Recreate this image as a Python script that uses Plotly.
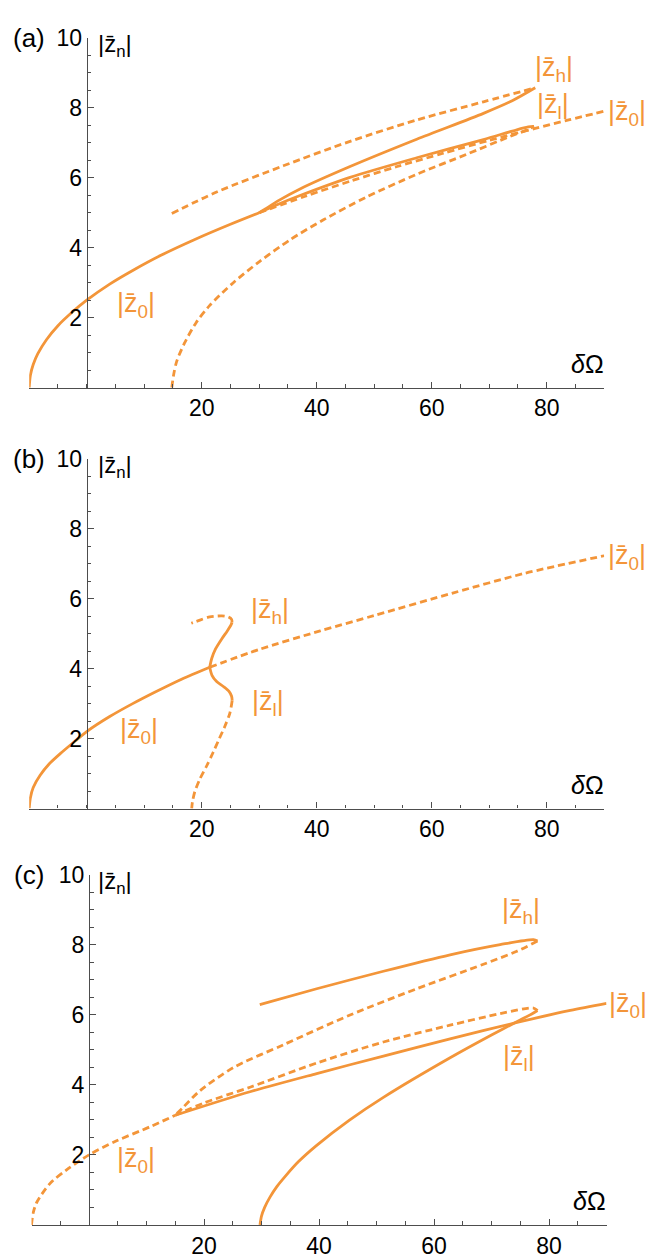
import plotly.graph_objects as go

W, H = 655, 1259
OFF = 8  # page body margin in the browser
ORANGE = "#F39539"
AXIS_COLOR = "#4D4D4D"
FONT = "Liberation Sans, Arial, Helvetica, sans-serif"

# ---------------- panel (a) ----------------
A_Z0_SOLID_X = [-10, -9.8, -9.3, -8.5, -7, -5, -2.5, 0, 4, 8, 13, 19, 25, 30]
A_Z0_SOLID_Y = [0, 0.35, 0.66, 0.97, 1.37, 1.77, 2.16, 2.50, 2.96, 3.35, 3.79, 4.25, 4.67, 5.0]
A_Z0_DASH_X = [30, 38, 46, 54, 62, 70, 78, 84, 90]
A_Z0_DASH_Y = [5.0, 5.47, 5.91, 6.32, 6.70, 7.07, 7.41, 7.66, 7.90]
A_ZH_SOLID_X = [30, 31.3, 33.5, 37.1, 45.8, 57.4, 69.0, 74.0, 78.0]
A_ZH_SOLID_Y = [5.0, 5.13, 5.36, 5.68, 6.32, 7.10, 7.84, 8.20, 8.57]
A_ZH_DASH_X = [14.8, 22.6, 34.2, 45.8, 57.4, 69.0, 78.0]
A_ZH_DASH_Y = [4.98, 5.59, 6.34, 7.04, 7.65, 8.17, 8.57]
A_ZL_SOLID_X = [30, 33, 37.1, 45.8, 57.4, 69.0, 74.8, 76.8, 77.8]
A_ZL_SOLID_Y = [5.0, 5.22, 5.49, 6.01, 6.57, 7.09, 7.37, 7.45, 7.47]
A_ZL_DASH_X = [14.8, 15.1, 15.65, 17.0, 19.0, 21.4, 25.5, 30.1, 35.4, 41.1, 48.7,
               57.4, 66.1, 73.6, 76.5, 77.8]
A_ZL_DASH_Y = [0, 0.35, 0.75, 1.27, 1.85, 2.35, 3.0, 3.61, 4.23, 4.79, 5.45,
               6.10, 6.67, 7.18, 7.36, 7.47]

# ---------------- panel (b) ----------------
B_Z0_SOLID_X = [-10, -9.8, -9.3, -8.1, -6.5, -4.6, -2, 0, 4, 8, 12, 16.5, 21.4]
B_Z0_SOLID_Y = [0, 0.30, 0.60, 0.95, 1.28, 1.57, 1.93, 2.20, 2.63, 3.00, 3.34, 3.70, 4.04]
B_Z0_DASH_X = [21.4, 30, 40.6, 50, 63.8, 76, 90]
B_Z0_DASH_Y = [4.04, 4.55, 5.08, 5.52, 6.17, 6.72, 7.23]
B_ZH_SOLID_X = [21.4, 21.74, 22.43, 23.48, 24.45, 25.1, 25.27]
B_ZH_SOLID_Y = [4.04, 4.29, 4.57, 4.85, 5.08, 5.25, 5.32]
B_ZH_DASH_X = [25.27, 25.2, 24.6, 23.5, 21.4, 19.7, 18.2]
B_ZH_DASH_Y = [5.32, 5.41, 5.48, 5.51, 5.48, 5.39, 5.30]
B_ZL_SOLID_X = [21.4, 21.79, 22.6, 23.76, 24.75, 25.2, 25.3]
B_ZL_SOLID_Y = [4.04, 3.81, 3.63, 3.49, 3.35, 3.21, 3.09]
B_ZL_DASH_X = [25.3, 24.9, 24.05, 22.9, 22.0, 20.9, 19.7, 18.8, 18.4, 18.26]
B_ZL_DASH_Y = [3.09, 2.73, 2.36, 1.94, 1.61, 1.23, 0.85, 0.48, 0.20, 0]

# ---------------- panel (c) ----------------
C_Z0_DASH_X = [-10, -9.7, -9.1, -6.8, -3.9, 0, 4.8, 10.6, 15.0]
C_Z0_DASH_Y = [0, 0.35, 0.64, 1.18, 1.57, 2.0, 2.40, 2.80, 3.13]
C_Z0_SOLID_X = [15.0, 28.0, 39.6, 51.2, 62.8, 75.0, 83.7, 90]
C_Z0_SOLID_Y = [3.13, 3.80, 4.32, 4.82, 5.31, 5.80, 6.12, 6.32]
C_ZH_SOLID_X = [29.7, 39.6, 51.2, 62.8, 71.5, 77.3, 78.0]
C_ZH_SOLID_Y = [6.29, 6.74, 7.24, 7.71, 8.00, 8.14, 8.10]
C_ZH_DASH_X = [78.0, 74.4, 68.6, 57.0, 45.4, 33.8, 25.1, 19.3, 16.4, 15.0]
C_ZH_DASH_Y = [8.10, 7.81, 7.44, 6.74, 5.99, 5.14, 4.49, 3.83, 3.36, 3.13]
C_ZL_DASH_X = [15.0, 20, 28.0, 39.6, 51.2, 62.8, 71.5, 77.3, 78.0]
C_ZL_DASH_Y = [3.13, 3.48, 3.93, 4.62, 5.22, 5.70, 6.03, 6.19, 6.12]
C_ZL_SOLID_X = [78.0, 77.0, 74.4, 70, 62.8, 51.2, 45.3, 39.6, 36.4, 34.2, 32.7, 31.5,
                30.55, 30.0, 29.74]
C_ZL_SOLID_Y = [6.12, 6.02, 5.80, 5.42, 4.77, 3.64, 2.99, 2.27, 1.80, 1.40, 1.10, 0.80,
                0.50, 0.25, 0]

X_TICKS = [20, 40, 60, 80]
Y_TICKS = [2, 4, 6, 8, 10]

Z0 = "|z\u0304<sub>0</sub>|"
ZH = "|z\u0304<sub>h</sub>|"
ZL = "|z\u0304<sub>l</sub>|"
ZN = "|z\u0304<sub>n</sub>|"

PANELS = [
    dict(
        tag="(a)", x_px=(29.2, 604.2), y_px=(380.0, 25.0),
        branches=[
            (A_Z0_SOLID_X, A_Z0_SOLID_Y, False), (A_Z0_DASH_X, A_Z0_DASH_Y, True),
            (A_ZH_SOLID_X, A_ZH_SOLID_Y, False), (A_ZH_DASH_X, A_ZH_DASH_Y, True),
            (A_ZL_SOLID_X, A_ZL_SOLID_Y, False), (A_ZL_DASH_X, A_ZL_DASH_Y, True),
        ],
        labels=[(ZH, 554, 57), (ZL, 553, 94), (Z0, 627, 101), (Z0, 136, 296)],
    ),
    dict(
        tag="(b)", x_px=(29.2, 604.2), y_px=(807.0, 452.3),
        branches=[
            (B_Z0_SOLID_X, B_Z0_SOLID_Y, False), (B_Z0_DASH_X, B_Z0_DASH_Y, True),
            (B_ZH_SOLID_X, B_ZH_SOLID_Y, False), (B_ZH_DASH_X, B_ZH_DASH_Y, True),
            (B_ZL_SOLID_X, B_ZL_SOLID_Y, False), (B_ZL_DASH_X, B_ZL_DASH_Y, True),
        ],
        labels=[(ZH, 270, 607), (ZL, 268, 700), (Z0, 139, 728), (Z0, 627, 552)],
    ),
    dict(
        tag="(c)", x_px=(31.5, 606.5), y_px=(1229.5, 874.0),
        branches=[
            (C_Z0_SOLID_X, C_Z0_SOLID_Y, False), (C_Z0_DASH_X, C_Z0_DASH_Y, True),
            (C_ZH_SOLID_X, C_ZH_SOLID_Y, False), (C_ZH_DASH_X, C_ZH_DASH_Y, True),
            (C_ZL_SOLID_X, C_ZL_SOLID_Y, False), (C_ZL_DASH_X, C_ZL_DASH_Y, True),
        ],
        labels=[(ZH, 521, 911), (ZL, 519, 1060), (Z0, 628, 1006), (Z0, 136, 1164)],
    ),
]

FW, FH = W - OFF, H - OFF


def px_x(p):
    return (p - OFF) / FW


def px_y(p):
    return 1 - (p - OFF) / FH


fig = go.Figure()
annotations = []
layout_axes = {}

for i, panel in enumerate(PANELS, start=1):
    xs = "" if i == 1 else str(i)
    x0, x1 = panel["x_px"]
    yb, yt = panel["y_px"]

    for bx, by, dashed in panel["branches"]:
        fig.add_trace(
            go.Scatter(
                x=bx, y=by, mode="lines", xaxis=f"x{xs}", yaxis=f"y{xs}",
                line=dict(color=ORANGE, width=2.8, shape="spline", smoothing=0.8,
                          dash="7px,4px" if dashed else "solid"),
                showlegend=False, hoverinfo="skip",
            )
        )

    layout_axes[f"xaxis{xs}"] = dict(
        domain=[px_x(x0), px_x(x1)], range=[-10, 90], anchor=f"y{xs}",
        showline=True, linecolor=AXIS_COLOR, linewidth=1.2,
        showgrid=False, zeroline=False,
        ticks="inside", tickvals=X_TICKS, ticklen=6, tickwidth=1.2, tickcolor=AXIS_COLOR,
        tickfont=dict(family=FONT, size=23, color="black"),
        minor=dict(ticks="inside", dtick=5, tick0=0, ticklen=3.5, tickwidth=1.1,
                   tickcolor=AXIS_COLOR, showgrid=False),
    )
    y_axis_pos = px_x(x0 + (x1 - x0) * 0.1)
    layout_axes[f"yaxis{xs}"] = dict(
        domain=[px_y(yb), px_y(yt)], range=[0, 10], anchor="free", position=y_axis_pos,
        showline=True, linecolor=AXIS_COLOR, linewidth=1.2,
        showgrid=False, zeroline=False,
        ticks="inside", tickvals=Y_TICKS, ticklen=6, tickwidth=1.2, tickcolor=AXIS_COLOR,
        tickfont=dict(family=FONT, size=23, color="black"),
        minor=dict(ticks="inside", dtick=0.5, tick0=0, ticklen=3.5, tickwidth=1.1,
                   tickcolor=AXIS_COLOR, showgrid=False),
    )

    for text, lx, ly in panel["labels"]:
        annotations.append(dict(
            text=text, x=px_x(lx), y=px_y(ly), xref="paper", yref="paper",
            xanchor="center", yanchor="middle", showarrow=False,
            font=dict(family=FONT, size=27, color=ORANGE),
        ))

    annotations.append(dict(
        text=panel["tag"], x=px_x(29), y=px_y(yt), xref="paper", yref="paper",
        xanchor="center", yanchor="middle", showarrow=False,
        font=dict(family=FONT, size=26, color="black"),
    ))
    annotations.append(dict(
        text=ZN, x=px_x(115), y=px_y(yt + 8), xref="paper", yref="paper",
        xanchor="center", yanchor="middle", showarrow=False,
        font=dict(family=FONT, size=24, color="black"),
    ))
    annotations.append(dict(
        text="<i>δ</i>Ω", x=px_x(x1 - 17), y=px_y(yb - 24), xref="paper", yref="paper",
        xanchor="center", yanchor="middle", showarrow=False,
        font=dict(family=FONT, size=25, color="black"),
    ))

fig.update_layout(
    width=FW, height=FH,
    margin=dict(l=0, r=0, t=0, b=0),
    paper_bgcolor="white", plot_bgcolor="white",
    annotations=annotations,
    **layout_axes,
)

fig.write_html("out.html")
